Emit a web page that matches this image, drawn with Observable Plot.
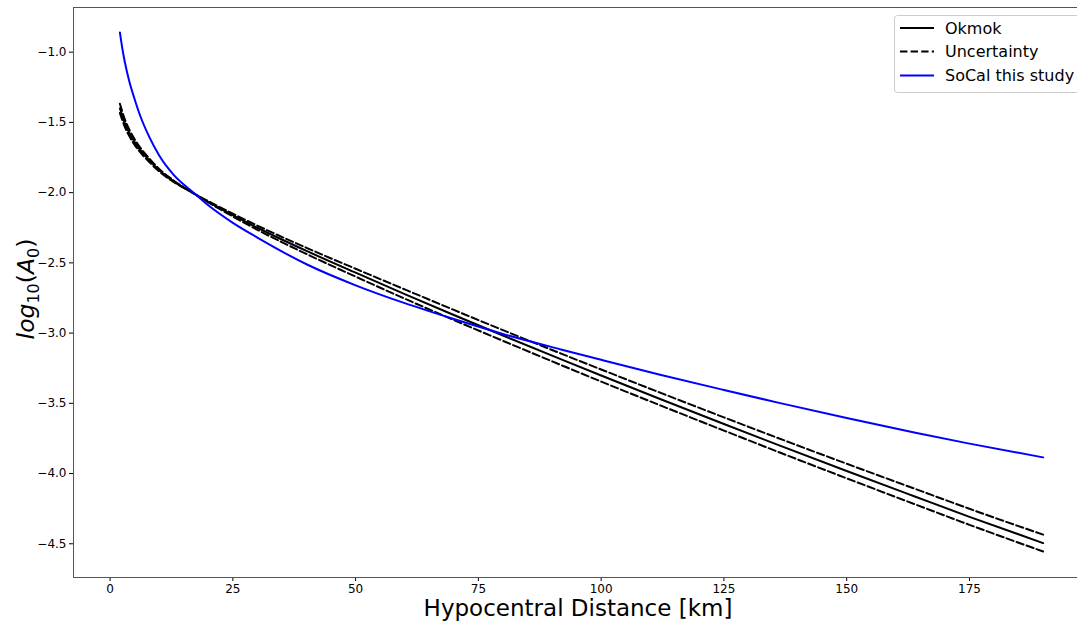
<!DOCTYPE html>
<html>
<head>
<meta charset="utf-8">
<script src="https://cdn.jsdelivr.net/npm/d3@7"></script>
<script src="https://cdn.jsdelivr.net/npm/@observablehq/plot@0.6"></script>
<style>
  html, body { margin: 0; padding: 0; background: white; }
  #chart { width: 1077px; height: 621px; }
</style>
</head>
<body>
<div id="chart"></div>
<script>
// Hypocentral distance (km)
const dist = [2, 2.5, 3, 4, 5, 6, 8, 10, 13, 17, 20, 25, 30, 40, 50, 60, 70, 80, 92, 100, 112, 125, 136, 150, 164, 175, 190];
// Okmok attenuation curve
const okmok = [-1.40, -1.455, -1.505, -1.58, -1.64, -1.69, -1.77, -1.84, -1.92, -2.005, -2.065, -2.16, -2.25, -2.415, -2.57, -2.722, -2.871, -3.017, -3.189, -3.302, -3.469, -3.647, -3.796, -3.982, -4.165, -4.308, -4.495];
// Uncertainty bounds
const uncUpper = [-1.367, -1.425, -1.478, -1.557, -1.62, -1.673, -1.757, -1.831, -1.915, -2.005, -2.061, -2.15, -2.235, -2.393, -2.542, -2.689, -2.835, -2.979, -3.148, -3.259, -3.424, -3.60, -3.747, -3.930, -4.110, -4.251, -4.435];
const uncLower = [-1.433, -1.485, -1.532, -1.603, -1.66, -1.707, -1.783, -1.849, -1.925, -2.005, -2.069, -2.17, -2.265, -2.437, -2.598, -2.755, -2.907, -3.055, -3.230, -3.345, -3.514, -3.694, -3.845, -4.034, -4.220, -4.365, -4.555];
// SoCal this study
const socal = [-0.86, -0.975, -1.07, -1.22, -1.335, -1.44, -1.605, -1.735, -1.875, -2.00, -2.09, -2.215, -2.32, -2.51, -2.66, -2.787, -2.90, -3.006, -3.118, -3.19, -3.296, -3.405, -3.495, -3.605, -3.71, -3.787, -3.885];

const xTicks = [0, 25, 50, 75, 100, 125, 150, 175];
const yTicks = [-1.0, -1.5, -2.0, -2.5, -3.0, -3.5, -4.0, -4.5];
const legendNames = ["Okmok", "Uncertainty", "SoCal this study"];
const legendColors = ["#000000", "#000000", "#0000ff"];
const legendDash = [null, "7.4,3.2", null];

const rows = dist.map((d, i) => ({x: d, okmok: okmok[i], up: uncUpper[i], lo: uncLower[i], socal: socal[i]}));

const W = 1077, H = 621;
const mL = 73, mR = 0, mT = 7, mB = 44;

const chart = Plot.plot({
  width: W,
  height: H,
  marginLeft: mL,
  marginRight: mR,
  marginTop: mT,
  marginBottom: mB,
  style: {fontFamily: "DejaVu Sans", fontSize: "12px", background: "white", color: "black", overflow: "visible"},
  x: {domain: [-7.45, 197], label: null},
  y: {domain: [-4.74, -0.682], label: null},
  marks: [
    Plot.line(rows, {x: "x", y: "okmok", stroke: "black", strokeWidth: 2, curve: "monotone-x"}),
    Plot.line(rows, {x: "x", y: "up", stroke: "black", strokeWidth: 2, strokeDasharray: "7.4,3.2", curve: "monotone-x"}),
    Plot.line(rows, {x: "x", y: "lo", stroke: "black", strokeWidth: 2, strokeDasharray: "7.4,3.2", curve: "monotone-x"}),
    Plot.line(rows, {x: "x", y: "socal", stroke: "#0000ff", strokeWidth: 2, curve: "monotone-x"}),
    Plot.axisX({ticks: xTicks, tickSize: 4, tickPadding: 3, tickFormat: d => String(d), label: null, fontSize: 12}),
    Plot.axisY({ticks: yTicks, tickSize: 4, tickPadding: 3, tickFormat: d3.format(".1f"), label: null, fontSize: 12}),
    Plot.frame({stroke: "#555", strokeWidth: 1})
  ]
});

const svg = d3.select(chart);

// X axis label
svg.append("text")
  .attr("x", 578)
  .attr("y", 616)
  .attr("text-anchor", "middle")
  .style("font-family", "DejaVu Sans")
  .style("font-size", "23px")
  .text("Hypocentral Distance [km]");

// Y axis label: log10(A0)
const yl = svg.append("text")
  .attr("transform", "translate(34,289) rotate(-90)")
  .attr("text-anchor", "middle")
  .style("font-family", "DejaVu Sans")
  .style("font-size", "23.5px");
yl.append("tspan").style("font-style", "italic").text("log");
yl.append("tspan").attr("dy", 5).style("font-size", "16px").text("10");
yl.append("tspan").attr("dy", -5).text("(");
yl.append("tspan").style("font-style", "italic").text("A");
yl.append("tspan").attr("dy", 5).style("font-size", "16px").text("0");
yl.append("tspan").attr("dy", -5).text(")");

// Legend
const lg = svg.append("g");
lg.append("rect")
  .attr("x", 894.5).attr("y", 15.5)
  .attr("width", 190).attr("height", 77)
  .attr("rx", 3)
  .attr("fill", "white").attr("fill-opacity", 0.9)
  .attr("stroke", "#cccccc");
const rowY = [28, 51.5, 75.5];
legendNames.forEach((name, i) => {
  const l = lg.append("line")
    .attr("x1", 900).attr("x2", 934)
    .attr("y1", rowY[i]).attr("y2", rowY[i])
    .attr("stroke", legendColors[i]).attr("stroke-width", 2);
  if (legendDash[i]) l.attr("stroke-dasharray", legendDash[i]);
  lg.append("text")
    .attr("x", 945).attr("y", rowY[i] + 5.5)
    .attr("text-anchor", "start")
    .style("font-family", "DejaVu Sans")
    .style("font-size", "16px")
    .text(name);
});

document.getElementById("chart").appendChild(chart);
</script>
</body>
</html>
